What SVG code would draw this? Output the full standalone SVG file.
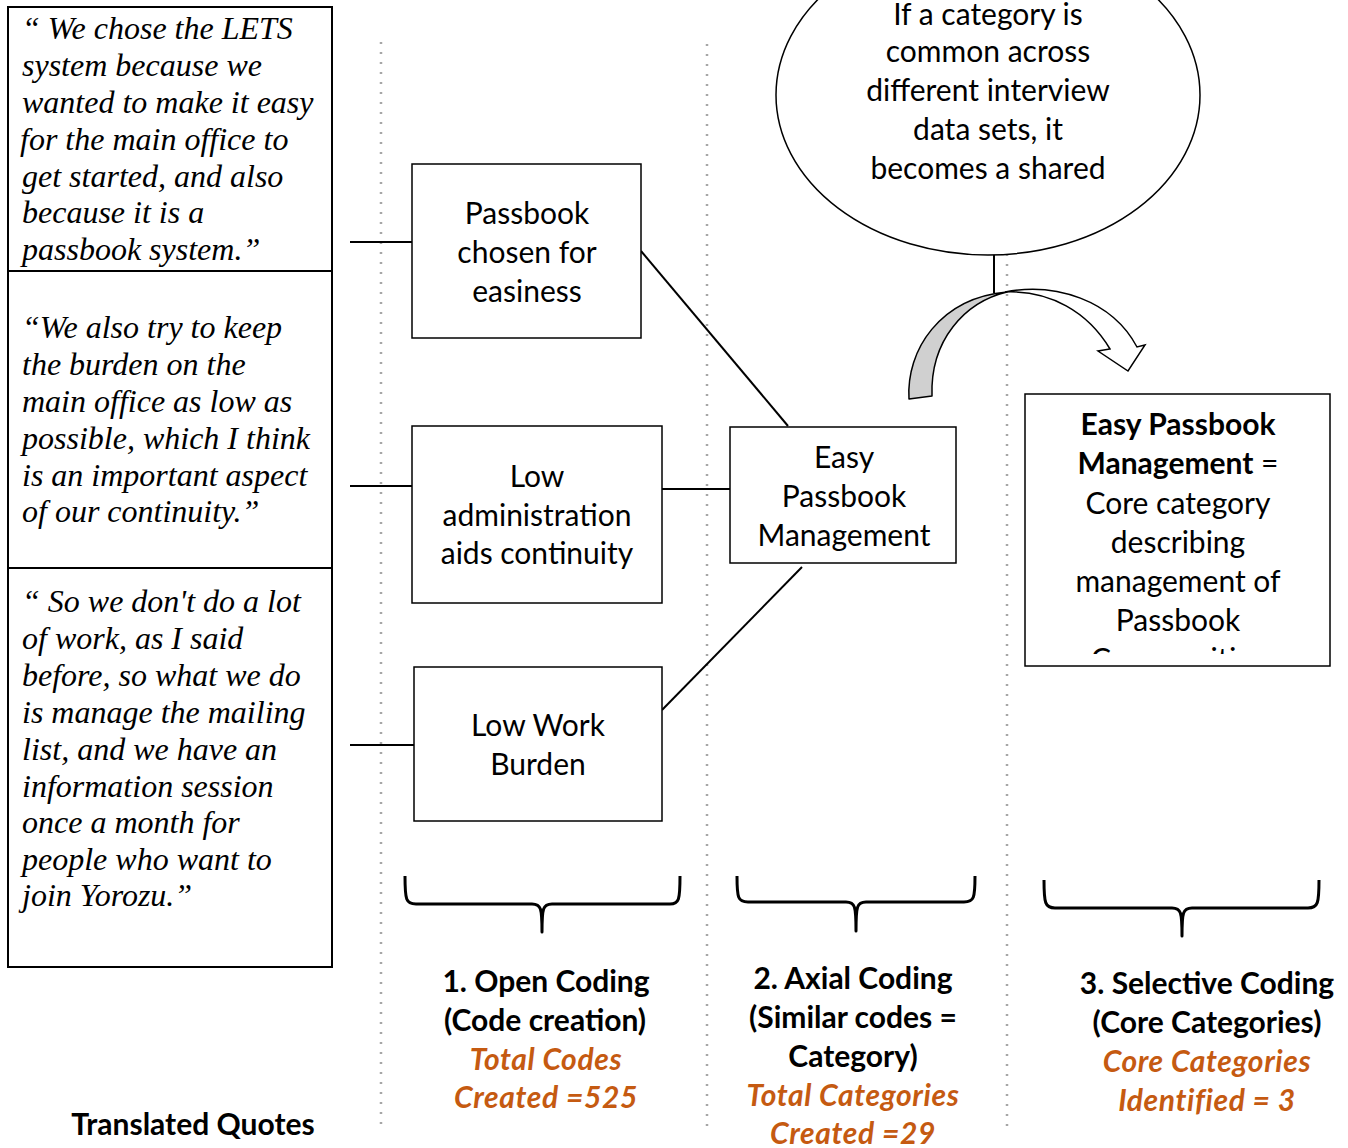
<svg xmlns="http://www.w3.org/2000/svg" width="1348" height="1148" viewBox="0 0 1348 1148">
  <defs>
    <style>
      .quote { font-family: "Liberation Serif", "Times New Roman", serif; font-style: italic; font-size: 32px; fill: #000; }
      .lbl { font-family: Lato, "Liberation Sans", sans-serif; font-size: 30px; fill: #000; text-anchor: middle; }
      .bold { font-weight: bold; }
      .stat { font-family: Lato, "Liberation Sans", sans-serif; font-size: 30px; letter-spacing: 0.6px; font-weight: bold; font-style: italic; fill: #C55A11; text-anchor: middle; }
      .box { fill: #fff; stroke: #000; stroke-width: 1.5; }
      .qbox { fill: none; stroke: #000; stroke-width: 2; }
      .dots { stroke: #a6a6a6; stroke-width: 2.5; stroke-dasharray: 2 8; fill: none; }
      .link { stroke: #000; stroke-width: 2; fill: none; }
      .brace { stroke: #000; stroke-width: 3; fill: none; stroke-linejoin: round; }
    </style>
    <clipPath id="coreClip">
      <rect x="1026" y="395" width="303" height="259"/>
    </clipPath>
  </defs>

  <!-- column separators -->
  <g id="separators">
    <line class="dots" x1="381" y1="42" x2="381" y2="1132"/>
    <line class="dots" x1="707" y1="44" x2="707" y2="1132"/>
    <line class="dots" x1="1007" y1="44" x2="1007" y2="1132"/>
  </g>

  <!-- translated quotes column -->
  <g id="quotes">
    <rect class="qbox" x="8" y="7" width="324" height="960"/>
    <line class="qbox" x1="8" y1="271" x2="332" y2="271"/>
    <line class="qbox" x1="8" y1="568" x2="332" y2="568"/>
    <g id="quote-1">
      <text class="quote" x="22" y="39">“ We chose the LETS</text>
      <text class="quote" x="22" y="76">system because we</text>
      <text class="quote" x="22" y="113">wanted to make it easy</text>
      <text class="quote" x="20" y="150">for the main office to</text>
      <text class="quote" x="22" y="187">get started, and also</text>
      <text class="quote" x="22" y="223">because it is a</text>
      <text class="quote" x="22" y="260">passbook system.”</text>
    </g>
    <g id="quote-2">
      <text class="quote" x="22" y="338">“We also try to keep</text>
      <text class="quote" x="22" y="375">the burden on the</text>
      <text class="quote" x="22" y="412">main office as low as</text>
      <text class="quote" x="22" y="449">possible, which I think</text>
      <text class="quote" x="22" y="486">is an important aspect</text>
      <text class="quote" x="22" y="522">of our continuity.”</text>
    </g>
    <g id="quote-3">
      <text class="quote" x="22" y="612">“ So we don't do a lot</text>
      <text class="quote" x="22" y="649">of work, as I said</text>
      <text class="quote" x="22" y="686">before, so what we do</text>
      <text class="quote" x="22" y="723">is manage the mailing</text>
      <text class="quote" x="22" y="760">list, and we have an</text>
      <text class="quote" x="22" y="797">information session</text>
      <text class="quote" x="22" y="833">once a month for</text>
      <text class="quote" x="22" y="870">people who want to</text>
      <text class="quote" x="22" y="906">join Yorozu.”</text>
    </g>
  </g>

  <!-- connectors -->
  <g id="connectors">
    <line class="link" x1="350" y1="242" x2="412" y2="242"/>
    <line class="link" x1="350" y1="486" x2="412" y2="486"/>
    <line class="link" x1="350" y1="745" x2="414" y2="745"/>
    <line class="link" x1="641" y1="251" x2="788" y2="426"/>
    <line class="link" x1="662" y1="489" x2="730" y2="489"/>
    <line class="link" x1="662" y1="710" x2="802" y2="567"/>
    <line class="link" x1="994" y1="254" x2="994" y2="293"/>
  </g>

  <!-- open codes -->
  <g id="code-passbook">
    <rect class="box" x="412" y="164" width="229" height="174"/>
    <text class="lbl" x="527" y="224">Passbook</text>
    <text class="lbl" x="527" y="263">chosen for</text>
    <text class="lbl" x="527" y="302">easiness</text>
  </g>
  <g id="code-low-admin">
    <rect class="box" x="412" y="426" width="250" height="177"/>
    <text class="lbl" x="537" y="487">Low</text>
    <text class="lbl" x="537" y="526">administration</text>
    <text class="lbl" x="537" y="564">aids continuity</text>
  </g>
  <g id="code-low-work">
    <rect class="box" x="414" y="667" width="248" height="154"/>
    <text class="lbl" x="538" y="736">Low Work</text>
    <text class="lbl" x="538" y="775">Burden</text>
  </g>

  <!-- axial category -->
  <g id="category-easy-passbook">
    <rect class="box" x="730" y="427" width="226" height="136"/>
    <text class="lbl" x="844" y="468">Easy</text>
    <text class="lbl" x="844" y="507">Passbook</text>
    <text class="lbl" x="844" y="546">Management</text>
  </g>

  <!-- shared category note -->
  <g id="note-shared">
    <ellipse cx="988" cy="95" rx="212" ry="160" fill="#fff" stroke="#000" stroke-width="1.5"/>
    <text class="lbl" x="988" y="25">If a category is</text>
    <text class="lbl" x="988" y="62">common across</text>
    <text class="lbl" x="988" y="101">different interview</text>
    <text class="lbl" x="988" y="140">data sets, it</text>
    <text class="lbl" x="988" y="179">becomes a shared</text>
  </g>

  <!-- curved block arrow -->
  <g id="curved-arrow">
    <path d="M909,399 C906,350 940,298 1007,292 C965,302 930,340 932,396 Z" fill="#d0d0d0" stroke="#000" stroke-width="1.5" stroke-linejoin="round"/>
    <path d="M1005,292 C1055,282 1112,300 1137,347 L1145,345 L1128,371 L1098,351 L1110,349 C1088,312 1050,290 1005,292 Z" fill="#fff" stroke="#000" stroke-width="1.5" stroke-linejoin="miter"/>
  </g>

  <!-- core category -->
  <g id="core-category">
    <rect class="box" x="1025" y="394" width="305" height="272"/>
    <g clip-path="url(#coreClip)">
      <text class="lbl bold" x="1178" y="435">Easy Passbook</text>
      <text class="lbl" x="1178" y="474"><tspan class="bold">Management</tspan> =</text>
      <text class="lbl" x="1178" y="514">Core category</text>
      <text class="lbl" x="1178" y="553">describing</text>
      <text class="lbl" x="1178" y="592">management of</text>
      <text class="lbl" x="1178" y="631">Passbook</text>
      <text class="lbl" x="1178" y="670">Communities</text>
    </g>
  </g>

  <!-- braces -->
  <g id="braces">
    <path class="brace" d="M405,876 C405,900 406,904 416,904 L532,904 C541,904 542,908 542,932 C542,908 543,904 552,904 L670,904 C679,904 680,900 680,876"/>
    <path class="brace" d="M737,876 C737,898 738,902 748,902 L846,902 C855,902 856,906 856,931 C856,906 857,902 866,902 L964,902 C974,902 975,898 975,876"/>
    <path class="brace" d="M1044,880 C1044,903 1045,908 1055,908 L1172,908 C1181,908 1182,912 1182,936 C1182,912 1183,908 1192,908 L1308,908 C1318,908 1319,903 1319,880"/>
  </g>

  <!-- stage labels -->
  <g id="stage-open">
    <text class="lbl bold" x="546" y="992">1. Open Coding</text>
    <text class="lbl bold" x="545" y="1031">(Code creation)</text>
    <text class="stat" x="546" y="1070">Total Codes</text>
    <text class="stat" x="546" y="1108">Created =525</text>
  </g>
  <g id="stage-axial">
    <text class="lbl bold" x="853" y="989">2. Axial Coding</text>
    <text class="lbl bold" x="853" y="1028">(Similar codes =</text>
    <text class="lbl bold" x="853" y="1067">Category)</text>
    <text class="stat" x="853" y="1106">Total Categories</text>
    <text class="stat" x="853" y="1144">Created =29</text>
  </g>
  <g id="stage-selective">
    <text class="lbl bold" x="1207" y="994">3. Selective Coding</text>
    <text class="lbl bold" x="1207" y="1033">(Core Categories)</text>
    <text class="stat" x="1207" y="1072">Core Categories</text>
    <text class="stat" x="1207" y="1111">Identified = 3</text>
  </g>
  <g id="caption">
    <text class="lbl bold" x="193" y="1135">Translated Quotes</text>
  </g>
</svg>
